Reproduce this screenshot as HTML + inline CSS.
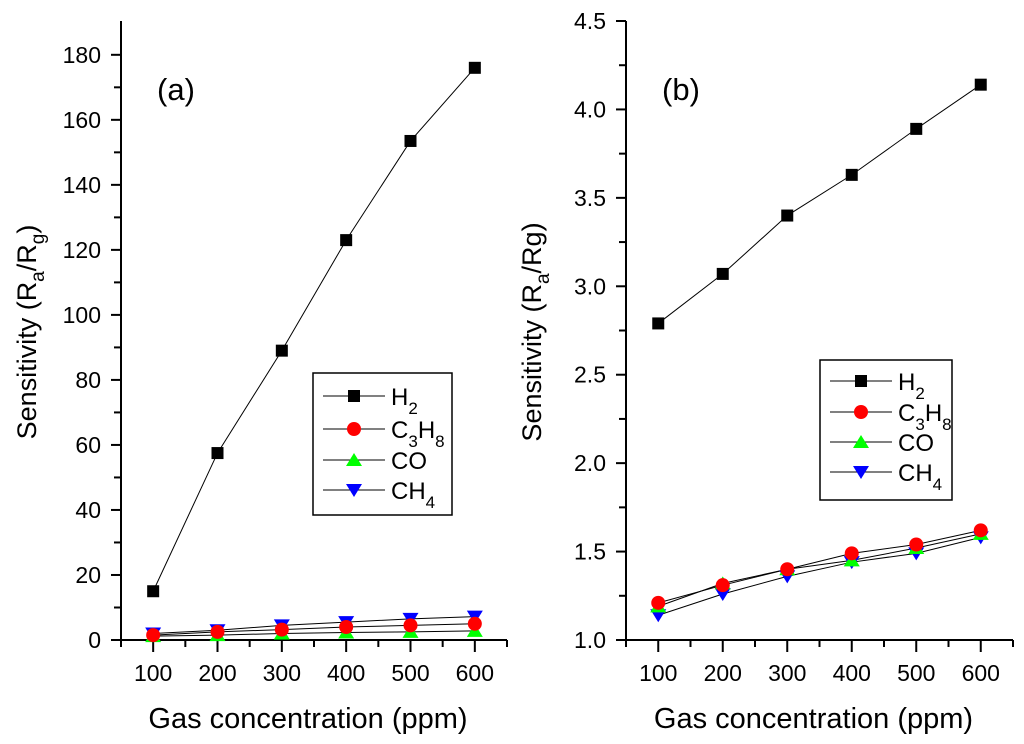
<!DOCTYPE html>
<html><head><meta charset="utf-8"><style>
body{margin:0;background:#fff}
svg{display:block;font-family:"Liberation Sans",Arial,sans-serif}
</style></head><body>
<svg id="chart" width="1024" height="744" viewBox="0 0 1024 744" xmlns="http://www.w3.org/2000/svg"></svg>
<script>
const xCategories = [100,200,300,400,500,600];
const aH2   = [15,57.5,89,123,153.5,176];
const aC3H8 = [1.5,2.5,3.2,4,4.5,5];
const aCO   = [1.2,1.5,2,2.3,2.5,2.8];
const aCH4  = [2,3,4.5,5.5,6.5,7.2];
const bH2   = [2.79,3.07,3.40,3.63,3.89,4.14];
const bC3H8 = [1.21,1.31,1.40,1.49,1.54,1.62];
const bCO   = [1.19,1.32,1.40,1.45,1.52,1.60];
const bCH4  = [1.14,1.26,1.36,1.44,1.49,1.58];
const aYTicks = [0,20,40,60,80,100,120,140,160,180];
const bYTicks = [1.0,1.5,2.0,2.5,3.0,3.5,4.0,4.5];
const seriesNames = ["H2","C3H8","CO","CH4"];

const NS="http://www.w3.org/2000/svg";
const svg=document.getElementById('chart');
function mk(tag,attrs,parent){const e=document.createElementNS(NS,tag);for(const k in attrs)e.setAttribute(k,attrs[k]);(parent||svg).appendChild(e);return e;}

function marker(g,type,cx,cy,s){
  let e;
  if(type==="H2") e=mk('rect',{x:cx-s,y:cy-s,width:2*s,height:2*s,fill:'#000'},g);
  else if(type==="C3H8") e=mk('circle',{cx:cx,cy:cy,r:s+1,fill:'#f00'},g);
  else if(type==="CO") e=mk('polygon',{points:`${cx},${cy-s-1} ${cx+s+2},${cy+s} ${cx-s-2},${cy+s}`,fill:'#0f0'},g);
  else e=mk('polygon',{points:`${cx-s-2},${cy-s} ${cx+s+2},${cy-s} ${cx},${cy+s+1}`,fill:'#00f'},g);
  
  
}

function panel(cfg){
  const g=mk('g',{});
  
  
  const X=v=>cfg.x0+(v-50)*(cfg.x1-cfg.x0)/600;
  const Y=v=>640-(v-cfg.ymin)*(619)/(cfg.ymax-cfg.ymin);
  const ax=mk('path',{d:`M${cfg.x0},${21} L${cfg.x0},640 L${cfg.x1},640`,stroke:'#000','stroke-width':2,fill:'none'},g);
  
  
  cfg.yticks.forEach((t,i)=>{
    const y=Y(t);
    mk('line',{x1:cfg.x0-10,x2:cfg.x0,y1:y,y2:y,stroke:'#000','stroke-width':2},g);
    const tx=mk('text',{x:cfg.x0-20,y:y+8,'text-anchor':'end','font-size':23},g);
    tx.textContent=cfg.fmt(t);
    
    
    if(i<cfg.yticks.length-1){const ym=Y((t+cfg.yticks[i+1])/2);mk('line',{x1:cfg.x0-7,x2:cfg.x0,y1:ym,y2:ym,stroke:'#000','stroke-width':2},g);}
  });
  for(let v=50;v<=650;v+=50){
    const x=X(v);const major=v%100===0;
    mk('line',{x1:x,x2:x,y1:640,y2:major?652:647,stroke:'#000','stroke-width':2},g);
  }
  xCategories.forEach(c=>{
    const tx=mk('text',{x:X(c),y:681,'text-anchor':'middle','font-size':23},g);
    tx.textContent=c;
    
    
  });
  const xt=mk('text',{x:(cfg.x0+cfg.x1)/2-6,y:728,'text-anchor':'middle','font-size':29},g);
  xt.textContent='Gas concentration (ppm)';
  
  
  const yt=mk('text',{transform:`translate(${cfg.x0-85},332) rotate(-90)`,'text-anchor':'middle','font-size':27},g);
  yt.innerHTML=cfg.ytitle;
  
  
  const pl=mk('text',{x:cfg.x0+36,y:100,'font-size':31},g);
  pl.textContent=cfg.label;
  
  
  const order=[3,2,1,0];
  order.forEach(si=>{
    const vals=cfg.series[si];
    const sg=mk('g',{},g);
    
    
    mk('polyline',{points:vals.map((v,i)=>X(xCategories[i])+','+Y(v)).join(' '),fill:'none',stroke:'#000','stroke-width':1},sg);
  });
  order.forEach(si=>{
    const vals=cfg.series[si];
    vals.forEach((v,i)=>marker(g,seriesNames[si],X(xCategories[i]),Y(v),6));
  });
  const lg=mk('g',{},g);
  
  
  mk('rect',{x:cfg.lx,y:cfg.ly,width:cfg.lw,height:cfg.lh,fill:'#fff',stroke:'#000','stroke-width':1.5},lg);
  const labels=['H<tspan dy="9" font-size="17">2</tspan>','C<tspan dy="9" font-size="17">3</tspan><tspan dy="-9">H</tspan><tspan dy="9" font-size="17">8</tspan>','CO','CH<tspan dy="9" font-size="17">4</tspan>'];
  [0,1,2,3].forEach(i=>{
    const y=cfg.ly+cfg.rows[i];
    const e=mk('g',{},lg);
    
    
    mk('line',{x1:cfg.lx+10,x2:cfg.lx+72,y1:y,y2:y,stroke:'#000','stroke-width':1},e);
    marker(e,seriesNames[i],cfg.lx+41,y,6);
    const t=mk('text',{x:cfg.lx+78,y:y+9,'font-size':24},e);
    t.innerHTML=labels[i];
  });
}

panel({name:'panel-a',label:'(a)',x0:121,x1:507,ymin:0,ymax:190.4,yticks:aYTicks,fmt:v=>String(v),
  series:[aH2,aC3H8,aCO,aCH4],ytitle:'Sensitivity (R<tspan dy="8" font-size="19">a</tspan><tspan dy="-8">/R</tspan><tspan dy="8" font-size="19">g</tspan><tspan dy="-8">)</tspan>',
  lx:313,ly:373,lw:139,lh:142,rows:[23,56,87,117]});
panel({name:'panel-b',label:'(b)',x0:626,x1:1013,ymin:1.0,ymax:4.5,yticks:bYTicks,fmt:v=>v.toFixed(1),
  series:[bH2,bC3H8,bCO,bCH4],ytitle:'Sensitivity (R<tspan dy="8" font-size="19">a</tspan><tspan dy="-8">/Rg)</tspan>',
  lx:820,ly:360,lw:132,lh:140,rows:[21,52,82,112]});
</script>
</body></html>
